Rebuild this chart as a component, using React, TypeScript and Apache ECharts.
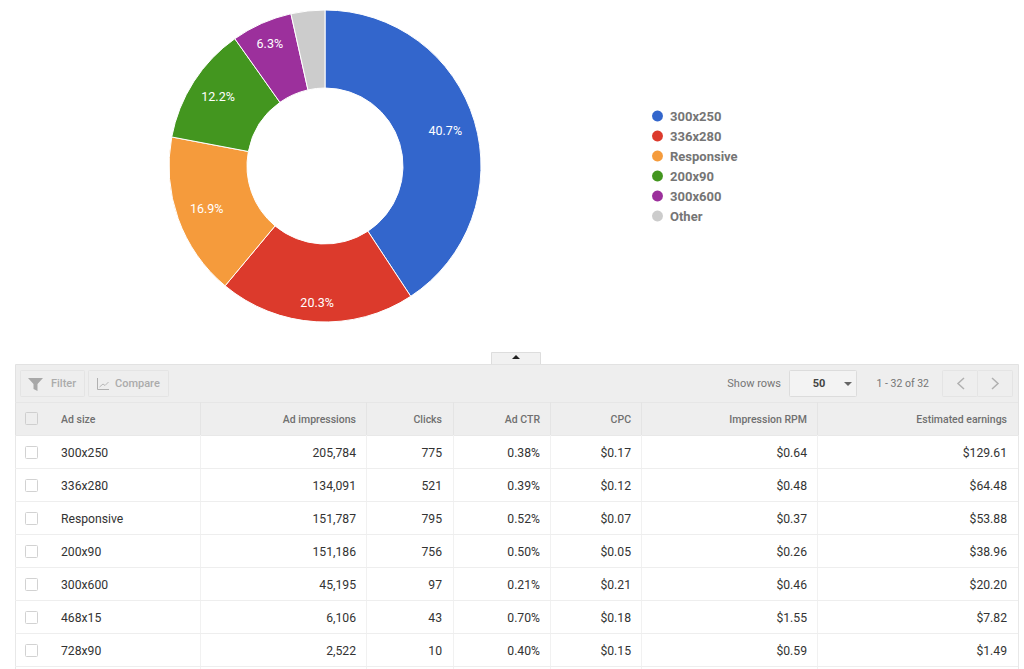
import React, { useEffect, useRef } from "react";
import * as echarts from "echarts";

const sizes = ["300x250", "336x280", "Responsive", "200x90", "300x600", "Other"];
const shares = [40.7, 20.3, 16.9, 12.2, 6.3, 3.5];
const colors = ["#3366CC", "#DC3A2C", "#F59B3C", "#43961F", "#9C309C", "#CCCCCC"];

const headers = ["Ad size", "Ad impressions", "Clicks", "Ad CTR", "CPC", "Impression RPM", "Estimated earnings"];
const rowSizes = ["300x250", "336x280", "Responsive", "200x90", "300x600", "468x15", "728x90"];
const impressions = ["205,784", "134,091", "151,787", "151,186", "45,195", "6,106", "2,522"];
const clicks = ["775", "521", "795", "756", "97", "43", "10"];
const ctr = ["0.38%", "0.39%", "0.52%", "0.50%", "0.21%", "0.70%", "0.40%"];
const cpc = ["$0.17", "$0.12", "$0.07", "$0.05", "$0.21", "$0.18", "$0.15"];
const rpm = ["$0.64", "$0.48", "$0.37", "$0.26", "$0.46", "$1.55", "$0.59"];
const earnings = ["$129.61", "$64.48", "$53.88", "$38.96", "$20.20", "$7.82", "$1.49"];

const FONT = "Roboto";
const CX = 325;
const CY = 166;
const MID_R = 117;
const LABEL_PUSH = [8, 18, 6, 7, 14, 0];

const TL = 15, TR = 1018, TT = 364, HT = 402, HB = 435, RH = 33;
const colLines = [200, 366, 453, 550, 641, 817];
const colRights = [356, 442, 540, 631, 807, 1007];

const rect = (x: number, y: number, w: number, h: number, fill: string, stroke?: string, r = 0) => ({
  type: "rect", silent: true,
  shape: { x, y, width: w, height: h, r },
  style: { fill, stroke: stroke ?? "none", lineWidth: 1 },
});
const line = (x1: number, y1: number, x2: number, y2: number, stroke: string) => ({
  type: "line", silent: true,
  shape: { x1, y1, x2, y2 },
  style: { stroke, lineWidth: 1 },
});
const text = (x: number, y: number, t: string, fill: string, size: number, align = "left", weight = "normal") => ({
  type: "text", silent: true, x, y,
  style: { text: t, fill, font: `${weight} ${size}px ${FONT}`, align, verticalAlign: "middle" },
});
const poly = (points: number[][], fill: string) => ({
  type: "polygon", silent: true, shape: { points }, style: { fill },
});
const pline = (points: number[][], stroke: string, lineWidth = 1) => ({
  type: "polyline", silent: true, shape: { points }, style: { stroke, lineWidth, fill: "none" },
});

function tableElements() {
  const els: any[] = [];
  // Collapse tab
  els.push(rect(491.5, 352.5, 49, 12, "#f1f1f1", "#dddddd"));
  els.push(poly([[512, 359], [520, 359], [516, 355]], "#222222"));
  // Header band and table frame
  els.push(rect(TL + 0.5, TT + 0.5, TR - TL, HB - TT, "#eeeeee", "#e2e2e2"));
  els.push(rect(TL + 0.5, HB + 0.5, TR - TL, 236, "#ffffff", "#e8e8e8"));
  els.push(line(TL, HT + 0.5, TR, HT + 0.5, "#e6e6e6"));
  // Toolbar
  els.push(rect(20.5, 370.5, 64, 26, "#eeeeee", "#e4e4e4", 1));
  els.push(poly([[28, 378], [43, 378], [37.5, 384], [37.5, 391], [33.5, 389], [33.5, 384]], "#a8a8a8"));
  els.push(text(51, 383, "Filter", "#ababab", 11, "left", "500"));
  els.push(rect(88.5, 370.5, 80, 26, "#eeeeee", "#e4e4e4", 1));
  els.push(pline([[97.5, 378], [97.5, 389.5], [109, 389.5]], "#b0b0b0"));
  els.push(pline([[99.5, 387], [103, 384], [105, 385.5], [108.5, 382]], "#b8b8b8"));
  els.push(text(115, 383, "Compare", "#ababab", 11, "left", "500"));
  els.push(text(781, 383, "Show rows", "#757575", 11, "right"));
  els.push(rect(789.5, 370.5, 67, 26, "#f3f3f3", "#dcdcdc", 1));
  els.push(text(819, 383, "50", "#444444", 11, "center", "bold"));
  els.push(poly([[844, 382], [852, 382], [848, 386]], "#666666"));
  els.push(text(929, 383, "1 - 32 of 32", "#757575", 10.5, "right"));
  els.push(rect(942.5, 370.5, 35, 26, "#eeeeee", "#e4e4e4", 1));
  els.push(rect(977.5, 370.5, 35, 26, "#eeeeee", "#e4e4e4", 1));
  els.push(pline([[964, 378], [958, 383.5], [964, 389]], "#b0b0b0", 1.5));
  els.push(pline([[992, 378], [998, 383.5], [992, 389]], "#b0b0b0", 1.5));
  // Column separators
  colLines.forEach((x) => {
    els.push(line(x + 0.5, HT, x + 0.5, HB, "#e4e4e4"));
    els.push(line(x + 0.5, HB, x + 0.5, 669, "#f1f1f1"));
  });
  // Header texts
  els.push(rect(25.5, 412.5, 12, 12, "#eeeeee", "#cfcfcf", 1));
  els.push(text(61, 419, headers[0], "#707070", 10.5, "left", "500"));
  headers.slice(1).forEach((h, i) => els.push(text(colRights[i], 419, h, "#707070", 10.5, "right", "500")));
  // Rows
  const cols = [impressions, clicks, ctr, cpc, rpm, earnings];
  rowSizes.forEach((s, r) => {
    const y = HB + RH * r + 18;
    if (r > 0) els.push(line(TL, HB + RH * r + 0.5, TR, HB + RH * r + 0.5, "#eeeeee"));
    els.push(rect(25.5, y - 6.5, 12, 12, "#ffffff", "#d2d2d2", 1));
    els.push(text(61, y, s, "#333333", 12.2));
    cols.forEach((c, i) => els.push(text(colRights[i], y, c[r], "#333333", 12.2, "right")));
  });
  els.push(line(TL, HB + RH * 7 + 0.5, TR, HB + RH * 7 + 0.5, "#eeeeee"));
  return els;
}

export default function App() {
  const ref = useRef<HTMLDivElement>(null);
  useEffect(() => {
    const chart = echarts.init(ref.current!, undefined, { renderer: "svg" });
    chart.setOption({
      animation: false,
      backgroundColor: "#ffffff",
      color: colors,
      textStyle: { fontFamily: FONT },
      legend: {
        orient: "vertical",
        left: 645,
        top: 103.5,
        icon: "circle",
        itemWidth: 13,
        itemHeight: 13,
        itemGap: 5,
        selectedMode: false,
        data: sizes,
        textStyle: { color: "#757575", fontSize: 13, fontWeight: "bold", fontFamily: FONT, padding: [0, 0, 0, 1] },
      },
      series: [
        {
          type: "pie",
          center: [CX, CY],
          radius: [78, 156],
          startAngle: 90,
          clockwise: true,
          silent: true,
          itemStyle: { borderColor: "#ffffff", borderWidth: 1 },
          label: {
            show: true,
            position: "inside",
            color: "#ffffff",
            fontSize: 12.5,
            fontFamily: FONT,
            fontWeight: 400,
            formatter: (p: any) => `${Number(p.value).toFixed(1)}%`,
          },
          labelLine: { show: false },
          labelLayout: (p: any) => {
            const lx = p.rect.x + p.rect.width / 2;
            const ly = p.rect.y + p.rect.height / 2;
            const push = LABEL_PUSH[p.dataIndex] ?? 0;
            return { dx: ((lx - CX) / MID_R) * push, dy: ((ly - CY) / MID_R) * push };
          },
          data: sizes.map((name, i) => ({
            name,
            value: shares[i],
            label: { show: name !== "Other" },
          })),
        },
      ],
      graphic: { elements: tableElements() },
    });
    return () => chart.dispose();
  }, []);
  return <div ref={ref} style={{ position: "absolute", left: 0, top: 0, width: 1024, height: 669 }} />;
}
